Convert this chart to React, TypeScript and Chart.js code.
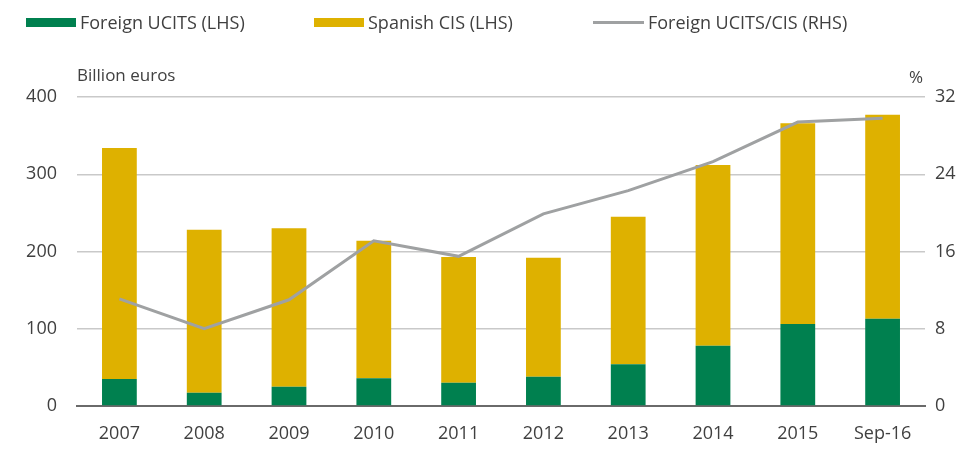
import React, { useEffect, useRef } from "react";
import { Chart, registerables } from "chart.js";

Chart.register(...registerables);

const categories = ["2007", "2008", "2009", "2010", "2011", "2012", "2013", "2014", "2015", "Sep-16"];
const foreignUcits = [35, 17, 25, 36, 30, 38, 54, 78, 106, 113];
const spanishCis = [299, 211, 205, 178, 163, 154, 191, 234, 260, 264];
const foreignShare = [11.1, 8.0, 11.0, 17.1, 15.5, 19.9, 22.3, 25.3, 29.4, 29.8];

const GREEN = "#00804F";
const YELLOW = "#DEB100";
const GREY_LINE = "#9FA1A2";
const TEXT = "#404040";
const FONT = "'Open Sans', 'Noto Sans', sans-serif";

export default function App() {
  const canvasRef = useRef<HTMLCanvasElement | null>(null);

  useEffect(() => {
    const canvas = canvasRef.current;
    if (!canvas) return;
    const chart = new Chart(canvas, {
      type: "bar",
      data: {
        labels: categories,
        datasets: [
          {
            type: "line",
            label: "Foreign UCITS/CIS (RHS)",
            data: foreignShare,
            yAxisID: "y1",
            borderColor: GREY_LINE,
            borderWidth: 3,
            pointRadius: 0,
            tension: 0,
            order: 0,
          } as any,
          {
            label: "Foreign UCITS (LHS)",
            data: foreignUcits,
            backgroundColor: GREEN,
            yAxisID: "y",
            stack: "s",
            order: 1,
            barPercentage: 0.41,
            categoryPercentage: 1,
          },
          {
            label: "Spanish CIS (LHS)",
            data: spanishCis,
            backgroundColor: YELLOW,
            yAxisID: "y",
            stack: "s",
            order: 2,
            barPercentage: 0.41,
            categoryPercentage: 1,
          },
        ],
      },
      options: {
        responsive: false,
        animation: false,
        layout: { padding: { top: 97, left: 0, right: 0, bottom: 0 } },
        plugins: {
          legend: { display: false },
          tooltip: { enabled: false },
        },
        scales: {
          x: {
            stacked: true,
            grid: { display: false, drawTicks: false },
            border: { display: true, color: "#6a6a6a", width: 2 },
            ticks: {
              color: TEXT,
              font: { family: FONT, size: 18 },
              padding: 17,
            },
            afterFit: (s: any) => {
              s.height = 58;
            },
          },
          y: {
            position: "left",
            stacked: true,
            min: 0,
            max: 400,
            ticks: {
              stepSize: 100,
              color: TEXT,
              font: { family: FONT, size: 18 },
              padding: 20,
            },
            grid: { color: "#c9c9c9", lineWidth: 1.5, drawTicks: false },
            border: { display: false },
            afterFit: (s: any) => {
              s.width = 77;
            },
          },
          y1: {
            position: "right",
            min: 0,
            max: 32,
            ticks: {
              stepSize: 8,
              color: TEXT,
              font: { family: FONT, size: 18 },
              padding: 10,
            },
            grid: { display: false, drawTicks: false },
            border: { display: false },
            afterFit: (s: any) => {
              s.width = 44;
            },
          },
        },
      },
    });
    return () => chart.destroy();
  }, []);

  const legendText: React.CSSProperties = {
    position: "absolute",
    top: 10,
    fontSize: 18,
    lineHeight: "24px",
    whiteSpace: "nowrap",
  };

  return (
    <div
      style={{
        position: "fixed",
        left: 0,
        top: 0,
        width: 969,
        height: 464,
        background: "#fff",
        fontFamily: FONT,
        color: TEXT,
      }}
    >
      <canvas ref={canvasRef} width={969} height={464} style={{ position: "absolute", left: 0, top: 0 }} />
      <div style={{ position: "absolute", left: 26, top: 18, width: 50, height: 9, background: GREEN }} />
      <div style={{ ...legendText, left: 80 }}>Foreign UCITS (LHS)</div>
      <div style={{ position: "absolute", left: 314, top: 18, width: 50, height: 9, background: YELLOW }} />
      <div style={{ ...legendText, left: 368 }}>Spanish CIS (LHS)</div>
      <div style={{ position: "absolute", left: 593, top: 21, width: 51, height: 3, background: GREY_LINE }} />
      <div style={{ ...legendText, left: 648 }}>Foreign UCITS/CIS (RHS)</div>
      <div style={{ position: "absolute", left: 77, top: 63, fontSize: 17, lineHeight: "24px", whiteSpace: "nowrap" }}>
        Billion euros
      </div>
      <div style={{ position: "absolute", right: 969 - 923, top: 65, fontSize: 17, lineHeight: "24px" }}>%</div>
    </div>
  );
}
